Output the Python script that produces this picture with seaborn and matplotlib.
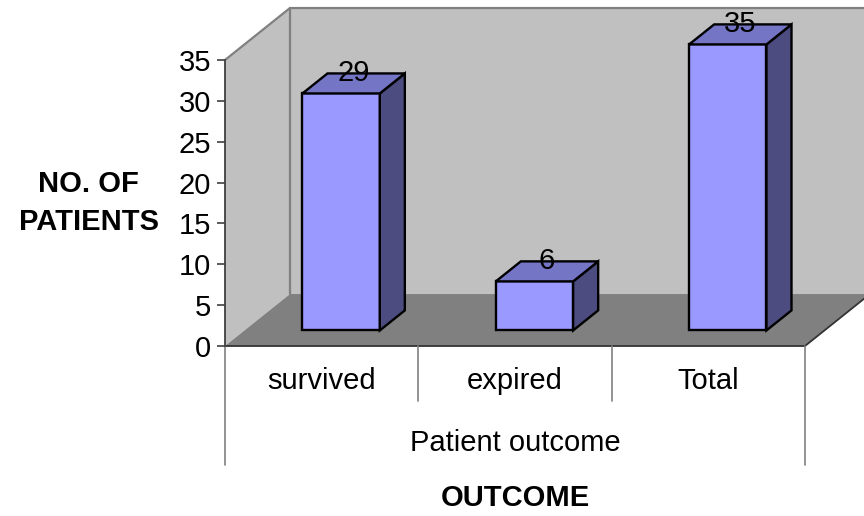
import matplotlib
matplotlib.use("Agg")
import matplotlib.pyplot as plt
from matplotlib.patches import Polygon
from matplotlib.transforms import blended_transform_factory
import seaborn as sns
import pandas as pd

# Chart data
categories = ["survived", "expired", "Total"]
patients = [29, 6, 35]
y_ticks = [0, 5, 10, 15, 20, 25, 30, 35]
group_label = "Patient outcome"
x_title = "OUTCOME"
y_title = "NO. OF\nPATIENTS"

sns.set_style("white")
plt.rcParams["font.family"] = ["Liberation Sans", "DejaVu Sans"]
plt.rcParams["text.color"] = "black"
plt.rcParams["axes.labelcolor"] = "black"

# Colours of the 3-D box
FRONT, TOP, SIDE = "#9999FF", "#7575C6", "#4C4C80"
WALL, FLOOR = "#C0C0C0", "#808080"
EDGE, DARK = "#808080", "#333333"
FS = 21

# Depth of the plot box (data units) and where the columns sit inside it
DX, DY = 0.336, 6.36
F_FRONT, F_DEPTH = 0.30, 0.385
X0, X1, YMAX = -0.5, 2.5, 35

fig = plt.figure(figsize=(8.64, 5.16), dpi=100)
ax = fig.add_axes([225 / 864, 1 - 346 / 516, 580 / 864, 286 / 516])
ax.patch.set_alpha(0)

df = pd.DataFrame({"outcome": categories, "patients": patients})
sns.barplot(data=df, x="outcome", y="patients", color=FRONT, saturation=1,
            width=0.4, edgecolor="black", linewidth=1.7, errorbar=None,
            ax=ax, zorder=5)
ax.set_xlim(X0, X1)
ax.set_ylim(0, YMAX)

# Walls and floor
walls = [
    ([(X0, 0), (X0, YMAX), (X0 + DX, YMAX + DY), (X0 + DX, DY)], WALL),
    ([(X0 + DX, DY), (X0 + DX, YMAX + DY), (X1 + DX, YMAX + DY), (X1 + DX, DY)], WALL),
    ([(X0, 0), (X1, 0), (X1 + DX, DY), (X0 + DX, DY)], FLOOR),
]
for pts, col in walls:
    ax.add_patch(Polygon(pts, closed=True, facecolor=col, edgecolor="none",
                         clip_on=False, zorder=0.5))
# wall outlines
ax.plot([X0, X0 + DX, X1 + DX], [YMAX, YMAX + DY, YMAX + DY], color=EDGE,
        lw=1.6, clip_on=False, zorder=0.8)
ax.plot([X0 + DX, X0 + DX], [DY, YMAX + DY], color=EDGE, lw=1.6,
        clip_on=False, zorder=0.8)
ax.plot([X0, X1, X1 + DX], [0, 0, DY], color=DARK, lw=1.3,
        clip_on=False, zorder=0.9)

# Shift column fronts into the box and add the top and side faces
for patch, val in zip(ax.patches[:len(patients)], patients):
    patch.set_x(patch.get_x() + F_FRONT * DX)
    patch.set_y(F_FRONT * DY)
    patch.set_clip_on(False)
    xa = patch.get_x()
    xb = xa + patch.get_width()
    ya = F_FRONT * DY
    yb = ya + val
    bx, by = F_DEPTH * DX, F_DEPTH * DY
    ax.add_patch(Polygon([(xb, ya), (xb + bx, ya + by), (xb + bx, yb + by), (xb, yb)],
                         closed=True, facecolor=SIDE, edgecolor="black",
                         lw=1.7, clip_on=False, zorder=5, joinstyle="miter"))
    ax.add_patch(Polygon([(xa, yb), (xb, yb), (xb + bx, yb + by), (xa + bx, yb + by)],
                         closed=True, facecolor=TOP, edgecolor="black",
                         lw=1.7, clip_on=False, zorder=5, joinstyle="miter"))
    ax.text((xa + xb) / 2 + bx / 2, yb + by, f"{val}", ha="center", va="center",
            fontsize=FS, color="black", zorder=10, clip_on=False)

# Axes styling
for side in ("top", "right", "bottom"):
    ax.spines[side].set_visible(False)
ax.spines["left"].set_color("#404040")
ax.spines["left"].set_linewidth(1.3)
ax.set_yticks(y_ticks)
ax.tick_params(axis="y", length=6, width=1.2, color="#404040", pad=4,
               labelsize=FS, labelcolor="black", left=True)
ax.tick_params(axis="x", length=0, pad=15, labelsize=FS, labelcolor="black")
ax.set_xlabel("")
ax.set_ylabel(y_title, rotation=0, ha="center", va="center", color="black",
              fontsize=FS, fontweight="bold", linespacing=1.45)
ax.yaxis.set_label_coords(-0.2353, 0.50)

# Category table below the floor
tr = blended_transform_factory(ax.transData, ax.transAxes)
for xv in (0.5, 1.5):
    ax.plot([xv, xv], [0, -0.192], transform=tr, color=EDGE, lw=1.2, clip_on=False)
for xv in (X0, X1):
    ax.plot([xv, xv], [0, -0.416], transform=tr, color=EDGE, lw=1.2, clip_on=False)
ax.text(0.5, -0.34, group_label, transform=ax.transAxes, ha="center",
        va="center", fontsize=FS, color="black")
ax.text(0.5, -0.53, x_title, transform=ax.transAxes, ha="center",
        va="center", fontsize=FS, fontweight="bold", color="black")

fig.savefig("out.png", dpi=100)
